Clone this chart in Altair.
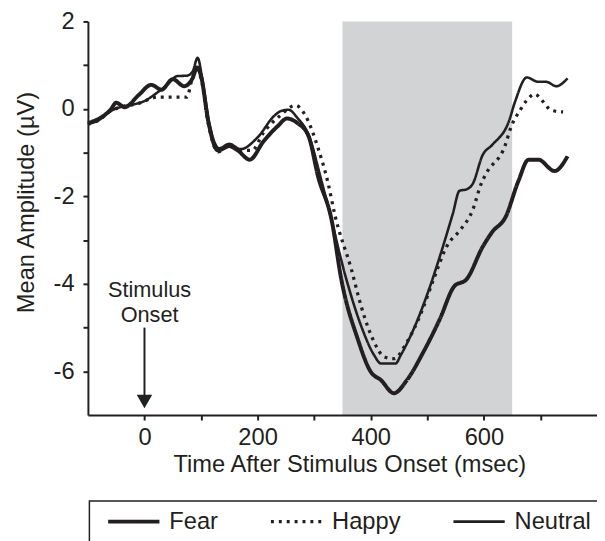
import altair as alt
import pandas as pd

# ---------------- data ----------------
fear_t = [-100, -80, -60, -50, -35, -10, 12, 30, 50, 70, 85, 93, 100, 113, 130, 150, 165, 186,
          210, 235, 252, 270, 290, 307, 331, 348, 377, 400, 418, 441, 464, 493, 522, 548, 569,
          598, 615, 638, 661, 679, 696, 725, 748]
fear_v = [-0.32, -0.22, -0.02, 0.14, 0.04, 0.32, 0.55, 0.44, 0.68, 0.52, 0.70, 0.95, 0.75, -0.30,
          -0.95, -0.85, -0.95, -1.16, -0.75, -0.40, -0.22, -0.32, -0.62, -1.55, -2.55, -3.90,
          -5.26, -6.01, -6.20, -6.50, -6.20, -5.56, -4.81, -4.05, -3.90, -3.15, -2.81, -2.48,
          -1.65, -1.16, -1.16, -1.42, -1.08]

neutral_t = [-100, -80, -60, -40, -20, 0, 20, 40, 58, 75, 85, 94, 102, 115, 132, 150, 170, 200,
             230, 241, 255, 270, 290, 313, 325, 357, 383, 406, 418, 444, 453, 476, 505, 522, 545,
             557, 569, 580, 598, 615, 644, 655, 676, 696, 710, 728, 748]
neutral_v = [-0.35, -0.25, -0.05, 0.05, 0.10, 0.18, 0.35, 0.55, 0.75, 0.76, 0.85, 1.17, 0.70,
             -0.35, -0.90, -0.80, -0.92, -0.65, -0.15, -0.05, -0.02, -0.20, -0.59, -1.65, -2.25,
             -3.90, -4.96, -5.63, -5.82, -5.82, -5.63, -5.03, -4.05, -3.38, -2.40, -1.87, -1.84,
             -1.72, -1.05, -0.82, -0.29, 0.16, 0.72, 0.62, 0.62, 0.52, 0.70]

happy_t = [-100, -80, -60, -40, -20, -12, 0, 23, 50, 75, 84, 92, 100, 113, 130, 150, 170, 190,
           210, 240, 267, 284, 307, 325, 336, 366, 383, 406, 424, 441, 464, 487, 511, 534, 560,
           580, 595, 603, 638, 647, 664, 676, 690, 705, 719, 740]
happy_v = [-0.35, -0.25, -0.05, 0.05, 0.10, 0.12, 0.18, 0.27, 0.27, 0.27, 0.68, 0.90, 0.70,
           -0.35, -0.98, -0.85, -0.95, -0.95, -0.55, -0.15, 0.08, -0.14, -0.90, -1.72, -2.39,
           -3.68, -4.51, -5.33, -5.67, -5.71, -5.33, -4.73, -3.90, -3.15, -2.74, -2.32, -1.72,
           -1.50, -0.82, -0.45, -0.03, 0.20, 0.34, 0.16, -0.03, -0.07]

conditions = ["Fear", "Happy", "Neutral"]
cond_widths = [4, 2.6, 1.9]
cond_dashes = [[1, 0], [3, 5], [1, 0]]

window_start = [350]
window_end = [650]

x_ticks = [0, 100, 200, 300, 400, 500, 600, 700]
y_ticks = [-6, -5, -4, -3, -2, -1, 0, 1, 2]

onset_time = [0]
onset_top = [-5.0]
onset_bottom = [-6.6]
onset_head = [-6.69]
label_lines = ["Stimulus", "Onset"]
label_time = [9, 9]
label_amp = [-4.31, -4.87]

# ---------------- tables ----------------
rows = []
for name, ts, vs in [("Fear", fear_t, fear_v), ("Happy", happy_t, happy_v),
                     ("Neutral", neutral_t, neutral_v)]:
    for t, v in zip(ts, vs):
        rows.append({"time": t, "amp": v, "condition": name})
erp = pd.DataFrame(rows)

window = pd.DataFrame({"start": window_start, "end": window_end, "top": [2], "bottom": [-7]})
arrow = pd.DataFrame({"time": onset_time, "top": onset_top, "bottom": onset_bottom,
                      "head": onset_head})
labels = pd.DataFrame({"time": label_time, "amp": label_amp, "text": label_lines})

INK = "#231f20"
FONT = "Liberation Sans"
X_TITLE = "Time After Stimulus Onset (msec)"
Y_TITLE = "Mean Amplitude (µV)"

x_scale = alt.Scale(domain=[-100, 800], nice=False, zero=False)
y_scale = alt.Scale(domain=[-7, 2], nice=False, zero=False)

x_axis = alt.Axis(
    values=x_ticks,
    labelExpr="datum.value % 200 === 0 ? toString(datum.value) : ''",
    title=X_TITLE,
    grid=False, domainColor=INK, domainWidth=2, tickColor=INK, tickWidth=2, tickSize=5,
    labelFont=FONT, labelFontSize=24, labelColor=INK, labelPadding=6,
    labelOverlap=False, labelFlush=False,
    titleFont=FONT, titleFontSize=24, titleFontWeight="normal", titleColor=INK,
    titleX=265, titleY=57, titleBaseline="alphabetic", titleAlign="center",
    zindex=1,
)
y_axis = alt.Axis(
    values=y_ticks,
    labelExpr="datum.value % 2 === 0 ? toString(datum.value) : ''",
    title=Y_TITLE,
    grid=False, domainColor=INK, domainWidth=2, tickColor=INK, tickWidth=2, tickSize=5,
    labelFont=FONT, labelFontSize=24, labelColor=INK, labelPadding=9,
    labelOverlap=False,
    titleFont=FONT, titleFontSize=24, titleFontWeight="normal", titleColor=INK,
    titleX=-55, titleY=183, titleBaseline="alphabetic", titleAlign="center", titleAngle=270,
    zindex=1,
)

legend = alt.Legend(
    title=None, orient="none", legendX=1.5, legendY=486, direction="horizontal", columns=3,
    symbolType="stroke", symbolSize=2704, symbolStrokeColor=INK, symbolOffset=9,
    labelFont=FONT, labelFontSize=24, labelColor=INK, labelOffset=8, columnPadding=42,
    padding=8, strokeColor=INK, clipHeight=26,
    labelExpr="datum.label == 'Neutral' ? 'Neutral          ' : datum.label",
)

band = alt.Chart(window).mark_rect(color="#d1d3d4").encode(
    x=alt.X("start:Q", scale=x_scale, axis=x_axis, title=X_TITLE),
    x2="end:Q",
    y=alt.Y("top:Q", scale=y_scale, axis=y_axis, title=Y_TITLE),
    y2="bottom:Q",
)

lines = alt.Chart(erp).mark_line(color=INK, interpolate="monotone", strokeJoin="round").encode(
    x=alt.X("time:Q", scale=x_scale, axis=x_axis, title=X_TITLE),
    y=alt.Y("amp:Q", scale=y_scale, axis=y_axis, title=Y_TITLE),
    strokeWidth=alt.StrokeWidth("condition:N",
                                scale=alt.Scale(domain=conditions, range=cond_widths),
                                legend=legend),
    strokeDash=alt.StrokeDash("condition:N",
                              scale=alt.Scale(domain=conditions, range=cond_dashes),
                              legend=legend),
    detail="condition:N",
)

shaft = alt.Chart(arrow).mark_rule(color=INK, strokeWidth=2).encode(
    x=alt.X("time:Q", scale=x_scale, axis=x_axis, title=X_TITLE),
    y=alt.Y("top:Q", scale=y_scale, axis=y_axis, title=Y_TITLE),
    y2="bottom:Q",
)

head = alt.Chart(arrow).mark_point(shape="triangle-down", filled=True, color=INK, size=246,
                                   opacity=1).encode(
    x=alt.X("time:Q", scale=x_scale, axis=x_axis, title=X_TITLE),
    y=alt.Y("head:Q", scale=y_scale, axis=y_axis, title=Y_TITLE),
)

text = alt.Chart(labels).mark_text(font=FONT, fontSize=22, color=INK, align="center",
                                   baseline="alphabetic").encode(
    x=alt.X("time:Q", scale=x_scale, axis=x_axis, title=X_TITLE),
    y=alt.Y("amp:Q", scale=y_scale, axis=y_axis, title=Y_TITLE),
    text="text:N",
)

chart = alt.layer(band, lines, shaft, head, text).properties(
    width=516, height=399,
    autosize=alt.AutoSizeParams(type="none"),
    padding={"left": 81, "top": 10, "right": 0, "bottom": 124},
).configure_view(stroke=None).configure_legend(strokeWidth=1.5)

chart.save("out.html", embed_options={"renderer": "svg", "actions": False})
